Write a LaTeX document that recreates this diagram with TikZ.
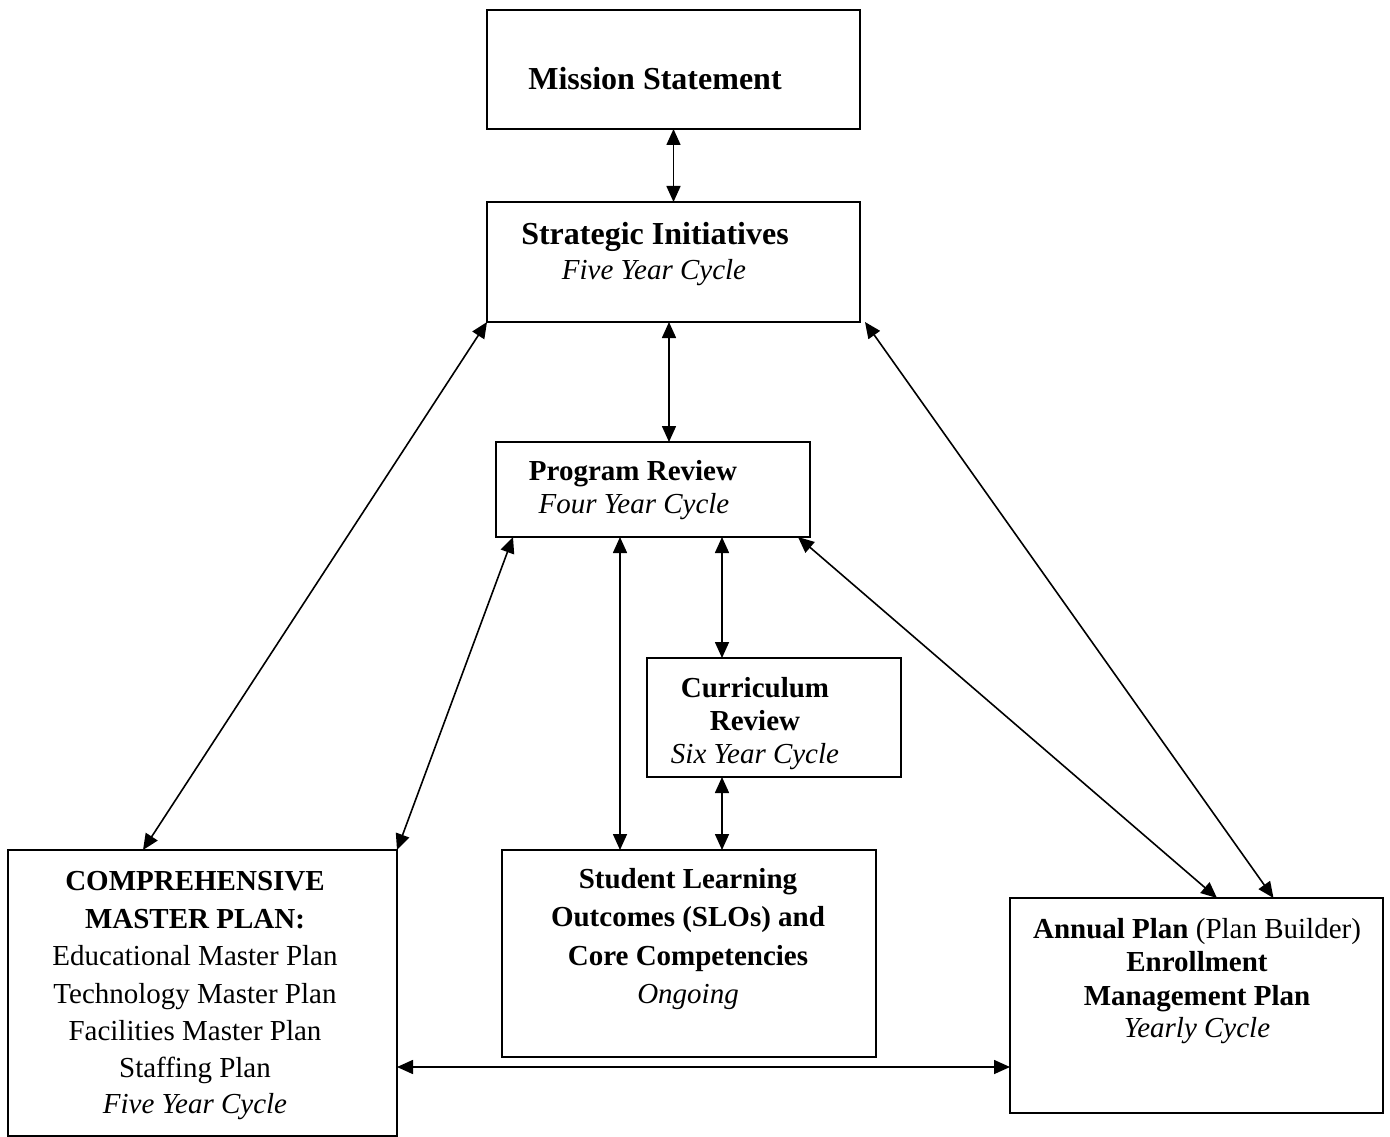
\documentclass[tikz,border=0pt]{standalone}
\usepackage{fontspec}
\setmainfont{Liberation Serif}
\usetikzlibrary{arrows.meta}
\begin{document}
\begin{tikzpicture}[x=1pt,y=-1pt,
  box/.style={draw, line width=2pt, inner sep=0pt, outer sep=0pt},
  lnk/.style={line width=1.6pt, <->, >={Triangle[length=16pt,width=14pt]}},
  txt/.style={inner sep=0pt, yshift=-3.5pt, text height=20pt, text depth=6pt, font=\fontsize{29}{35}\selectfont},
  big/.style={inner sep=0pt, yshift=-3.5pt, text height=22pt, text depth=7pt, font=\fontsize{32}{38}\selectfont\bfseries}
]
\useasboundingbox (0,0) rectangle (1390,1137);

% boxes
\node[box, minimum width=373pt, minimum height=119pt] (mis) at (673.5,69.5) {};
\node[box, minimum width=373pt, minimum height=120pt] (str) at (673.5,262) {};
\node[box, minimum width=314pt, minimum height=95pt]  (prg) at (653,489.5) {};
\node[box, minimum width=254pt, minimum height=119pt] (cur) at (774,717.5) {};
\node[box, minimum width=374pt, minimum height=207pt] (slo) at (689,953.5) {};
\node[box, minimum width=389pt, minimum height=286pt] (cmp) at (202.5,993) {};
\node[box, minimum width=373pt, minimum height=215pt] (ann) at (1196.5,1005.5) {};

% texts
\node[big] (tmis) at (655,79) {Mission Statement};
\node[big] (tstr) at (655,233) {Strategic Initiatives};
\node[txt] (tstr2) at (654,269) {\itshape Five Year Cycle};
\node[txt] (tprg) at (633,470) {\bfseries Program Review};
\node[txt] (tprg2) at (634,503) {\itshape Four Year Cycle};
\node[txt] (tcur1) at (755,687) {\bfseries Curriculum};
\node[txt] (tcur2) at (755,720) {\bfseries Review};
\node[txt] (tcur3) at (755,753) {\itshape Six Year Cycle};
\node[txt] (tslo1) at (688,878) {\bfseries Student Learning};
\node[txt] (tslo2) at (688,916) {\bfseries Outcomes (SLOs) and};
\node[txt] (tslo3) at (688,955) {\bfseries Core Competencies};
\node[txt] (tslo4) at (688,993) {\itshape Ongoing};
\node[txt] (tcmp1) at (195,880) {\bfseries COMPREHENSIVE};
\node[txt] (tcmp2) at (195,918) {\bfseries MASTER PLAN:};
\node[txt] (tcmp3) at (195,955) {Educational Master Plan};
\node[txt] (tcmp4) at (195,993) {Technology Master Plan};
\node[txt] (tcmp5) at (195,1030) {Facilities Master Plan};
\node[txt] (tcmp6) at (195,1067) {Staffing Plan};
\node[txt] (tcmp7) at (195,1103) {\itshape Five Year Cycle};
\node[txt] (tann1) at (1197,928) {\textbf{Annual Plan} (Plan Builder)};
\node[txt] (tann2) at (1197,961) {\bfseries Enrollment};
\node[txt] (tann3) at (1197,995) {\bfseries Management Plan};
\node[txt] (tann4) at (1197,1027) {\itshape Yearly Cycle};

% connectors
\draw[lnk] (mis) -- (str);
\draw[lnk] ([xshift=-4.5pt]str.south) -- ([xshift=16pt]prg.north);
\draw[lnk] (str.south west) -- ([xshift=-59.5pt]cmp.north);
\draw[lnk] ([xshift=5pt]str.south east) -- ([xshift=77pt]ann.north);
\draw[lnk] ([xshift=-140pt]prg.south) -- (cmp.north east);
\draw[lnk] ([xshift=-33pt]prg.south) -- ([xshift=-69pt]slo.north);
\draw[lnk] ([xshift=69pt]prg.south) -- ([xshift=-52pt]cur.north);
\draw[lnk] ([xshift=-52pt]cur.south) -- ([xshift=33pt]slo.north);
\draw[lnk] ([xshift=-12pt]prg.south east) -- ([xshift=20.5pt]ann.north);
\draw[lnk] ([yshift=-74pt]cmp.east) -- ([yshift=-61.5pt]ann.west);
\end{tikzpicture}
\end{document}
